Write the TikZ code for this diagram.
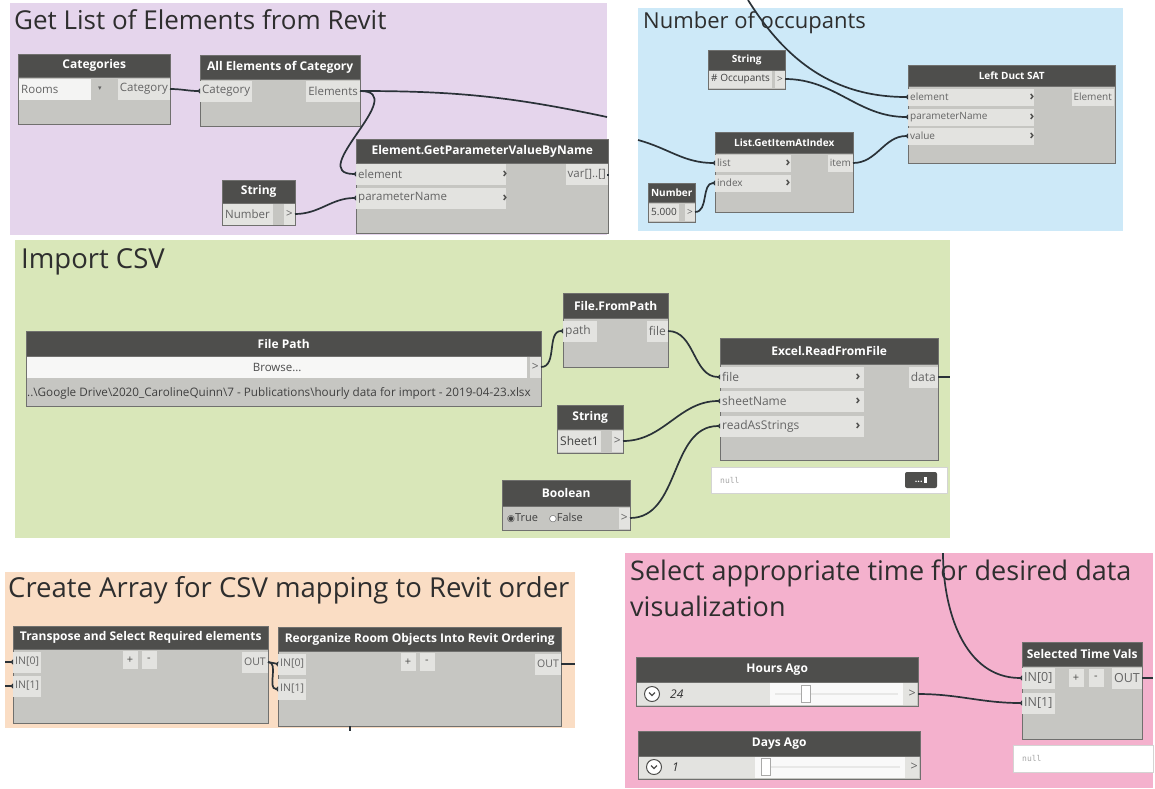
\documentclass[tikz,border=0pt]{standalone}
\usepackage{fontspec}
\setmainfont{Open Sans}
\newfontfamily\symfont{DejaVu Sans}
\newfontfamily\monofnt{DejaVu Sans Mono}
\usetikzlibrary{positioning, arrows.meta}

\definecolor{grpPurple}{RGB}{229,213,236}
\definecolor{grpBlue}{RGB}{205,233,248}
\definecolor{grpGreen}{RGB}{217,231,185}
\definecolor{grpPeach}{RGB}{250,221,196}
\definecolor{grpPink}{RGB}{244,177,205}
\definecolor{hdrGray}{RGB}{78,78,76}
\definecolor{bodyGray}{RGB}{198,198,194}
\definecolor{portGray}{RGB}{227,227,224}
\definecolor{lineGray}{RGB}{112,112,110}
\definecolor{txtGray}{RGB}{100,100,100}
\definecolor{wireCol}{RGB}{42,50,56}

\tikzset{
  grptitle/.style={anchor=west, inner sep=0pt, text=black!82},
  hdr/.style={anchor=north west, fill=hdrGray, draw=lineGray, text=white, font=\bfseries\fontsize{12}{14}\selectfont, inner sep=0pt},
  bdy/.style={anchor=north west, fill=bodyGray, draw=lineGray, inner sep=0pt},
  pin/.style={anchor=west, fill=portGray, text=txtGray, font=\fontsize{12}{14}\selectfont, inner sep=2pt, minimum height=21pt, align=left},
  pout/.style={pin, anchor=east, align=right},
  chev/.style={text=hdrGray, font=\bfseries\fontsize{13}{13}\selectfont, inner sep=0pt},
  pm/.style={fill=portGray, text=hdrGray, font=\fontsize{11}{11}\selectfont, inner sep=2pt, minimum width=15pt, minimum height=18pt},
  nullbox/.style={anchor=north west, fill=white, draw=lineGray!30, inner sep=0pt},
  nulltxt/.style={anchor=west, text=black!35, font=\monofnt\fontsize{8}{9}\selectfont, inner sep=0pt},
  wire/.style={draw=wireCol, line width=1.7pt, -{Triangle[reversed, length=2.5pt, width=5pt]}},
  stub/.style={draw=wireCol, line width=1.7pt}
}

\begin{document}
\begin{tikzpicture}[x=1pt, y=-1pt]
  \useasboundingbox (0,0) rectangle (1155,788);
  \fill[white] (0,0) rectangle (1155,788);

  % group backgrounds
  \fill[grpPurple] (10,3) rectangle (607,235);
  \fill[grpBlue] (638,8) rectangle (1123,231);
  \fill[grpGreen] (15,240) rectangle (950,538);
  \fill[grpPeach] (5,572) rectangle (575,728);
  \fill[grpPink] (625,553) rectangle (1153,788);

  \node[grptitle, font=\fontsize{26}{30}\selectfont] (t1) at (14,20) {Get List of Elements from Revit};
  \node[grptitle, font=\fontsize{22}{26}\selectfont] (t2) at (643,23) {Number of occupants};
  \node[grptitle, font=\fontsize{27.5}{32}\selectfont] (t3) at (21,262) {Import CSV};
  \node[grptitle, font=\fontsize{27.5}{32}\selectfont] (t4) at (8,590) {Create Array for CSV mapping to Revit order};
  \node[grptitle, font=\fontsize{27}{32}\selectfont] (t5) at (630,573) {Select appropriate time for desired data};
  \node[grptitle, font=\fontsize{27}{32}\selectfont] (t6) at (630,606) {visualization};

  % Get List of Elements from Revit
  \begin{scope}[pin/.append style={font=\fontsize{11.5}{13}\selectfont}]
  \node[hdr, minimum width=152pt, minimum height=23pt] (cath) at (18,54) {Categories};
  \node[bdy, minimum width=152pt, minimum height=47pt] (catb) at (18,77) {};
  \node[pin, text width=68pt, fill=white!60!portGray] (catrm) at (19,89) {Rooms};
  \node[chev, text=txtGray, font=\symfont\fontsize{7}{7}\selectfont] (catdd) at (100,89) {▾};
  \node[pout] (catout) at (170,89) {Category};

  \node[hdr, minimum width=160pt, minimum height=24pt] (aech) at (200,55) {All Elements of Category};
  \node[bdy, minimum width=160pt, minimum height=47pt] (aecb) at (200,79) {};
  \node[pin] (aecin) at (200,91) {Category};
  \node[pout] (aecout) at (360,91) {Elements};

  \node[hdr, minimum width=252pt, minimum height=24pt] (gph) at (356,139) {Element.GetParameterValueByName};
  \node[bdy, minimum width=252pt, minimum height=70pt] (gpb) at (356,163) {};
  \node[pin, text width=146pt] (gpel) at (356,174) {element};
  \node[pin, text width=146pt] (gppn) at (356,198) {parameterName};
  \node[chev] (gpc1) at (505,174) {›};
  \node[chev] (gpc2) at (505,198) {›};
  \node[pout] (gpout) at (608,174) {var[]..[]};

  \node[hdr, minimum width=73pt, minimum height=23pt] (strh) at (222,180) {String};
  \node[bdy, minimum width=73pt, minimum height=22pt] (strb) at (222,203) {};
  \node[pin, text width=46pt] (strval) at (223,214) {Number};
  \node[pout] (strout) at (295,214) {>};
  \end{scope}

  \coordinate (pedge1) at (607,117);
  \coordinate (pedge2) at (608,176);

  % Number of occupants
  \begin{scope}[hdr/.append style={font=\bfseries\fontsize{10}{12}\selectfont},
                pin/.append style={font=\fontsize{10}{12}\selectfont, minimum height=17pt}]
  \node[hdr, minimum width=77pt, minimum height=20pt] (occh) at (708,50) {String};
  \node[bdy, minimum width=77pt, minimum height=19pt] (occb) at (708,70) {};
  \node[pin, text=black!75] (occval) at (709,79) {\# Occupants};
  \node[pout] (occout) at (785,79) {>};

  \node[hdr, minimum width=207pt, minimum height=21pt] (ldh) at (908,65) {Left Duct SAT};
  \node[bdy, minimum width=207pt, minimum height=77pt] (ldb) at (908,86) {};
  \node[pin, text width=122pt] (ldel) at (908,97) {element};
  \node[pin, text width=122pt] (ldpn) at (908,117) {parameterName};
  \node[pin, text width=122pt] (ldval) at (908,136) {value};
  \node[chev] (ldc1) at (1032,97) {›};
  \node[chev] (ldc2) at (1032,117) {›};
  \node[chev] (ldc3) at (1032,136) {›};
  \node[pout] (ldout) at (1114,97) {Element};

  \node[hdr, minimum width=138pt, minimum height=21pt] (lsh) at (715,132) {List.GetItemAtIndex};
  \node[bdy, minimum width=138pt, minimum height=59pt] (lsb) at (715,153) {};
  \node[pin, text width=72pt] (lslist) at (715,163) {list};
  \node[pin, text width=72pt] (lsidx) at (715,183) {index};
  \node[chev] (lsc1) at (788,163) {›};
  \node[chev] (lsc2) at (788,183) {›};
  \node[pout] (lsout) at (853,163) {item};

  \node[hdr, minimum width=47pt, minimum height=19pt] (numh) at (648,183) {Number};
  \node[bdy, minimum width=47pt, minimum height=20pt] (numb) at (648,202) {};
  \node[pin, text=black!75] (numval) at (649,212) {5.000};
  \node[pout] (numout) at (695,212) {>};
  \end{scope}

  \coordinate (btop) at (748,0);
  \coordinate (bedge1) at (638,140);

  % Import CSV
  \node[hdr, minimum width=515pt, minimum height=25pt] (fph) at (26,331) {File Path};
  \node[bdy, minimum width=515pt, minimum height=50pt] (fpb) at (26,356) {};
  \node[anchor=north west, fill=white!70!portGray, text=black!70, font=\fontsize{11.5}{13}\selectfont, minimum width=500pt, minimum height=21pt, inner sep=0pt] (fpbrowse) at (27,357) {Browse...};
  \node[pout] (fpout) at (541,367) {>};
  \node[anchor=west, inner sep=0pt, text=black!75, font=\fontsize{11.7}{13}\selectfont] (fptxt) at (27,393) {..\textbackslash Google Drive\textbackslash 2020\_CarolineQuinn\textbackslash 7 - Publications\textbackslash hourly data for import - 2019-04-23.xlsx};

  \node[hdr, minimum width=105pt, minimum height=25pt] (ffh) at (563,293) {File.FromPath};
  \node[bdy, minimum width=105pt, minimum height=49pt] (ffb) at (563,318) {};
  \node[pin, text width=30pt] (ffin) at (563,331) {path};
  \node[pout] (ffout) at (668,331) {file};

  \node[hdr, minimum width=218pt, minimum height=26pt] (erh) at (720,338) {Excel.ReadFromFile};
  \node[bdy, minimum width=218pt, minimum height=96pt] (erb) at (720,364) {};
  \node[pin, text width=140pt] (erfile) at (720,377) {file};
  \node[pin, text width=140pt] (ersheet) at (720,401) {sheetName};
  \node[pin, text width=140pt] (erras) at (720,426) {readAsStrings};
  \node[chev] (erc1) at (858,377) {›};
  \node[chev] (erc2) at (858,401) {›};
  \node[chev] (erc3) at (858,426) {›};
  \node[pout] (erout) at (938,377) {data};
  \node[nullbox, minimum width=236pt, minimum height=26pt] (ernull) at (711,467) {};
  \node[nulltxt] (ernulltxt) at (720,480) {null};
  \node[fill=hdrGray, rounded corners=2pt, text=white, font=\bfseries\fontsize{9}{9}\selectfont, minimum width=32pt, minimum height=16pt, inner sep=0pt] (erpin) at (921,480) {...\,\raisebox{-0.5pt}{\rule{3pt}{6pt}}};

  \node[hdr, minimum width=66pt, minimum height=24pt] (shh) at (557,405) {String};
  \node[bdy, minimum width=66pt, minimum height=24pt] (shb) at (557,429) {};
  \node[pin, text=black!75] (shval) at (558,441) {Sheet1};
  \node[pout] (shout) at (623,441) {>};

  \node[hdr, minimum width=128pt, minimum height=26pt] (boh) at (502,480) {Boolean};
  \node[bdy, minimum width=128pt, minimum height=24pt] (bob) at (502,506) {};
  \node[pin, fill=none, text=black!75, font=\fontsize{11}{13}\selectfont] (boval) at (505,518) {{\symfont\fontsize{9}{10}\selectfont ◉}True\quad{\symfont\fontsize{9}{10}\selectfont\color{white}●}\llap{{\symfont\fontsize{9}{10}\selectfont ○}}False};
  \node[pout] (boout) at (630,518) {>};

  \coordinate (gedge) at (950,377);

  % Create Array for CSV mapping to Revit order
  \begin{scope}[pin/.append style={font=\fontsize{10.5}{12}\selectfont}]
  \node[hdr, minimum width=255pt, minimum height=23pt] (tsh) at (13,626) {Transpose and Select Required elements};
  \node[bdy, minimum width=255pt, minimum height=74pt] (tsb) at (13,649) {};
  \node[pin] (tsin0) at (13,662) {IN[0]};
  \node[pin] (tsin1) at (13,686) {IN[1]};
  \node[pm] (tsplus) at (130,660) {+};
  \node[pm] (tsminus) at (149,660) {-};
  \node[pout] (tsout) at (268,662) {OUT};

  \node[hdr, minimum width=283pt, minimum height=24pt] (roh) at (278,627) {Reorganize Room Objects Into Revit Ordering};
  \node[bdy, minimum width=283pt, minimum height=75pt] (rob) at (278,651) {};
  \node[pin] (roin0) at (278,664) {IN[0]};
  \node[pin] (roin1) at (278,689) {IN[1]};
  \node[pm] (roplus) at (408,662) {+};
  \node[pm] (rominus) at (427,662) {-};
  \node[pout] (roout) at (561,664) {OUT};
  \end{scope}

  \coordinate (cedge0) at (5,662);
  \coordinate (cedge1) at (5,686);
  \coordinate (cedge2) at (575,664);
  \coordinate (cbot) at (350,731);

  % Select appropriate time for desired data visualization
  \begin{scope}[pin/.append style={font=\fontsize{12.5}{14}\selectfont}]
  \node[hdr, minimum width=282pt, minimum height=25pt] (hah) at (636,657) {Hours Ago};
  \node[bdy, minimum width=282pt, minimum height=24pt] (hab) at (636,682) {};
  \fill[portGray] (637,683) rectangle (917,705);
  \fill[white!80!portGray] (770,683) rectangle (903,705);
  \node[circle, draw=hdrGray, fill=white, line width=1pt, minimum size=15pt, inner sep=0pt] (hadd) at (652,694) {};
  \draw[hdrGray, line width=1.3pt] ([shift={(-3,-1.5)}]hadd.center) -- ([shift={(0,1.5)}]hadd.center) -- ([shift={(3,-1.5)}]hadd.center);
  \node[anchor=west, inner sep=0pt, font=\itshape\fontsize{12}{13}\selectfont, text=black!80] (haval) at (670,694) {24};
  \draw[white!60!bodyGray, line width=2pt] (775,694) -- (898,694);
  \node[draw=lineGray!60, fill=white, minimum width=9pt, minimum height=17pt, inner sep=0pt] (hasl) at (806,694) {};
  \node[pout, fill=none] (haout) at (918,694) {>};

  \node[hdr, minimum width=282pt, minimum height=25pt] (dah) at (638,731) {Days Ago};
  \node[bdy, minimum width=282pt, minimum height=23pt] (dab) at (638,756) {};
  \fill[portGray] (639,757) rectangle (919,778);
  \fill[white!80!portGray] (755,757) rectangle (905,778);
  \node[circle, draw=hdrGray, fill=white, line width=1pt, minimum size=15pt, inner sep=0pt] (dadd) at (654,767) {};
  \draw[hdrGray, line width=1.3pt] ([shift={(-3,-1.5)}]dadd.center) -- ([shift={(0,1.5)}]dadd.center) -- ([shift={(3,-1.5)}]dadd.center);
  \node[anchor=west, inner sep=0pt, font=\itshape\fontsize{12}{13}\selectfont, text=black!80] (daval) at (672,767) {1};
  \draw[white!60!bodyGray, line width=2pt] (762,767) -- (900,767);
  \node[draw=lineGray!60, fill=white, minimum width=9pt, minimum height=17pt, inner sep=0pt] (dasl) at (766,767) {};
  \node[pout, fill=none] (daout) at (920,767) {>};

  \node[hdr, minimum width=120pt, minimum height=24pt] (sth) at (1022,642) {Selected Time Vals};
  \node[bdy, minimum width=120pt, minimum height=73pt] (stb) at (1022,666) {};
  \node[pin] (stin0) at (1022,678) {IN[0]};
  \node[pin] (stin1) at (1022,703) {IN[1]};
  \node[pm] (stplus) at (1076,678) {+};
  \node[pm] (stminus) at (1096,678) {-};
  \node[pout] (stout) at (1142,678) {OUT};
  \node[nullbox, minimum width=140pt, minimum height=27pt] (stnull) at (1013,745) {};
  \node[nulltxt] (stnulltxt) at (1022,758) {null};
  \end{scope}

  \coordinate (ptop) at (943,553);
  \coordinate (pedge3) at (1153,678);

  % wires
  \draw[wire] (catout.east) to[out=0, in=180] (aecin.west);
  \draw[wire] (aecout.east) to[out=0, in=180, looseness=1.6] (gpel.west);
  \draw[stub] (aecout.east) to[out=0, in=168] (pedge1);
  \draw[wire] (strout.east) to[out=0, in=180] (gppn.west);
  \draw[stub] (gpout.east) -- (pedge2);

  \draw[wire] (btop) to[out=-58, in=180] (ldel.west);
  \draw[wire] (occout.east) to[out=0, in=180] (ldpn.west);
  \draw[wire] (lsout.east) to[out=0, in=180] (ldval.west);
  \draw[wire] (bedge1) to[out=-15, in=180] (lslist.west);
  \draw[wire] (numout.east) to[out=0, in=180] (lsidx.west);

  \draw[wire] (fpout.east) to[out=0, in=180] (ffin.west);
  \draw[wire] (ffout.east) to[out=0, in=180] (erfile.west);
  \draw[wire] (shout.east) to[out=0, in=180] (ersheet.west);
  \draw[wire] (boout.east) to[out=0, in=180] (erras.west);
  \draw[stub] (erout.east) -- (gedge);

  \draw[wire] (cedge0) -- (tsin0.west);
  \draw[wire] (cedge1) -- (tsin1.west);
  \draw[wire] (tsout.east) -- (roin0.west);
  \draw[wire] (tsout.east) to[out=0, in=180] (roin1.west);
  \draw[stub] (roout.east) -- (cedge2);
  \draw[stub, line width=1.2pt] (rob.south -| cbot) -- (cbot);

  \draw[wire] (ptop) to[out=-90, in=180] (stin0.west);
  \draw[wire] (haout.east) to[out=0, in=180] (stin1.west);
  \draw[stub] (stout.east) -- (pedge3);
\end{tikzpicture}
\end{document}
